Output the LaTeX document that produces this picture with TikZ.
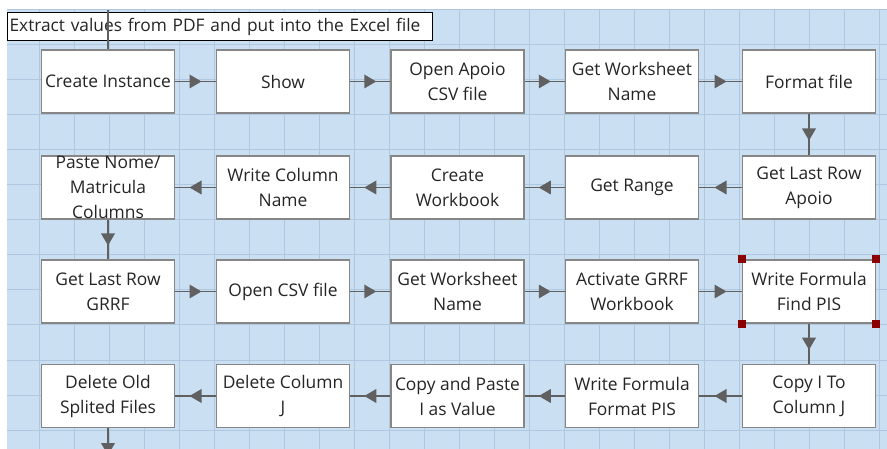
\documentclass[tikz,border=0pt]{standalone}
\usepackage{fontspec}
\setmainfont{Open Sans}
\usetikzlibrary{decorations.markings}
\definecolor{sheet}{HTML}{CBDFF3}
\definecolor{gridc}{HTML}{AFC7DF}
\definecolor{boxline}{HTML}{868686}
\definecolor{flowline}{HTML}{606060}
\definecolor{handle}{HTML}{8B0000}
\definecolor{txt}{HTML}{252525}
\begin{document}
\begin{tikzpicture}[x=1pt,y=-1pt,
  activity/.style={draw=boxline, line width=1.6pt, fill=white,
    minimum width=133pt, minimum height=63pt, inner sep=0pt,
    align=center, text=txt, font=\fontsize{17.4}{25}\selectfont},
  flow/.style={draw=flowline, line width=1.4pt, postaction={decorate},
    decoration={markings, mark=at position 0.5 with
      {\fill[flowline] (-6,-7) -- (6,0) -- (-6,7) -- cycle;}}},
  plainflow/.style={draw=flowline, line width=1.4pt},
  titlebox/.style={draw=black, line width=1.2pt, fill=white,
    anchor=north west, text width=421pt, inner xsep=2pt, inner ysep=0pt,
    minimum height=28pt, align=left, text=txt,
    font=\fontsize{17.3}{20}\selectfont},
  selhandle/.style={fill=handle}
]
\useasboundingbox (0,0) rectangle (887,449);

% sheet background with its grid
\fill[white] (0,0) rectangle (887,449);
\fill[sheet] (7,10) rectangle (887,449);
\foreach \gx in {39,74,...,879} \draw[gridc, line width=1pt] (\gx,10) -- (\gx,449);
\foreach \gy in {45,80,...,440} \draw[gridc, line width=1pt] (7,\gy) -- (887,\gy);
\draw[gridc, line width=1pt] (7,10) -- (887,10);

% sequence title
\node[titlebox] (title) at (7,12) {Extract values from PDF and put into the Excel file};

% row 1
\node[activity] (ci)   at (108,81.5)  {Create Instance};
\node[activity] (show) at (283,81.5)  {Show};
\node[activity] (oac)  at (457.5,81.5){Open Apoio\\CSV file};
\node[activity] (gwa)  at (632,81.5)  {Get Worksheet\\Name};
\node[activity] (fmt)  at (809,81.5)  {Format file};
% row 2
\node[activity] (glra) at (809,187.5) {Get Last Row\\Apoio};
\node[activity] (rng)  at (632,187.5) {Get Range};
\node[activity] (cwb)  at (457.5,187.5){Create\\Workbook};
\node[activity] (wcn)  at (283,187.5) {Write Column\\Name};
\node[activity] (pnm)  at (108,187.5) {Paste Nome/\\Matricula\\Columns};
% row 3
\node[activity] (glrg) at (108,291.5) {Get Last Row\\GRRF};
\node[activity] (ocsv) at (283,291.5) {Open CSV file};
\node[activity] (gwg)  at (457.5,291.5){Get Worksheet\\Name};
\node[activity] (agw)  at (632,291.5) {Activate GRRF\\Workbook};
\node[activity] (wff)  at (809,291.5) {Write Formula\\Find PIS};
% row 4
\node[activity] (cij)  at (809,396)   {Copy I To\\Column J};
\node[activity] (wfp)  at (632,396)   {Write Formula\\Format PIS};
\node[activity] (cpv)  at (457.5,396) {Copy and Paste\\I as Value};
\node[activity] (dcj)  at (283,396)   {Delete Column\\J};
\node[activity] (dof)  at (108,396)   {Delete Old\\Splited Files};

% loose ends of the sequence
\coordinate (entry) at (108,10);
\coordinate (exit)  at (108,470);

% connectors
\draw[plainflow] (entry) -- (ci.north);
\draw[flow] (ci) -- (show);
\draw[flow] (show) -- (oac);
\draw[flow] (oac) -- (gwa);
\draw[flow] (gwa) -- (fmt);
\draw[flow] (fmt) -- (glra);
\draw[flow] (glra) -- (rng);
\draw[flow] (rng) -- (cwb);
\draw[flow] (cwb) -- (wcn);
\draw[flow] (wcn) -- (pnm);
\draw[flow] (pnm) -- (glrg);
\draw[flow] (glrg) -- (ocsv);
\draw[flow] (ocsv) -- (gwg);
\draw[flow] (gwg) -- (agw);
\draw[flow] (agw) -- (wff);
\draw[flow] (wff) -- (cij);
\draw[flow] (cij) -- (wfp);
\draw[flow] (wfp) -- (cpv);
\draw[flow] (cpv) -- (dcj);
\draw[flow] (dcj) -- (dof);
\draw[flow] (dof) -- (exit);

% selection handles on the active step
\foreach \corner in {north west, north east, south west, south east}
  \fill[selhandle] (wff.\corner) ++(-4,-4) rectangle ++(8,8);
\end{tikzpicture}
\end{document}
